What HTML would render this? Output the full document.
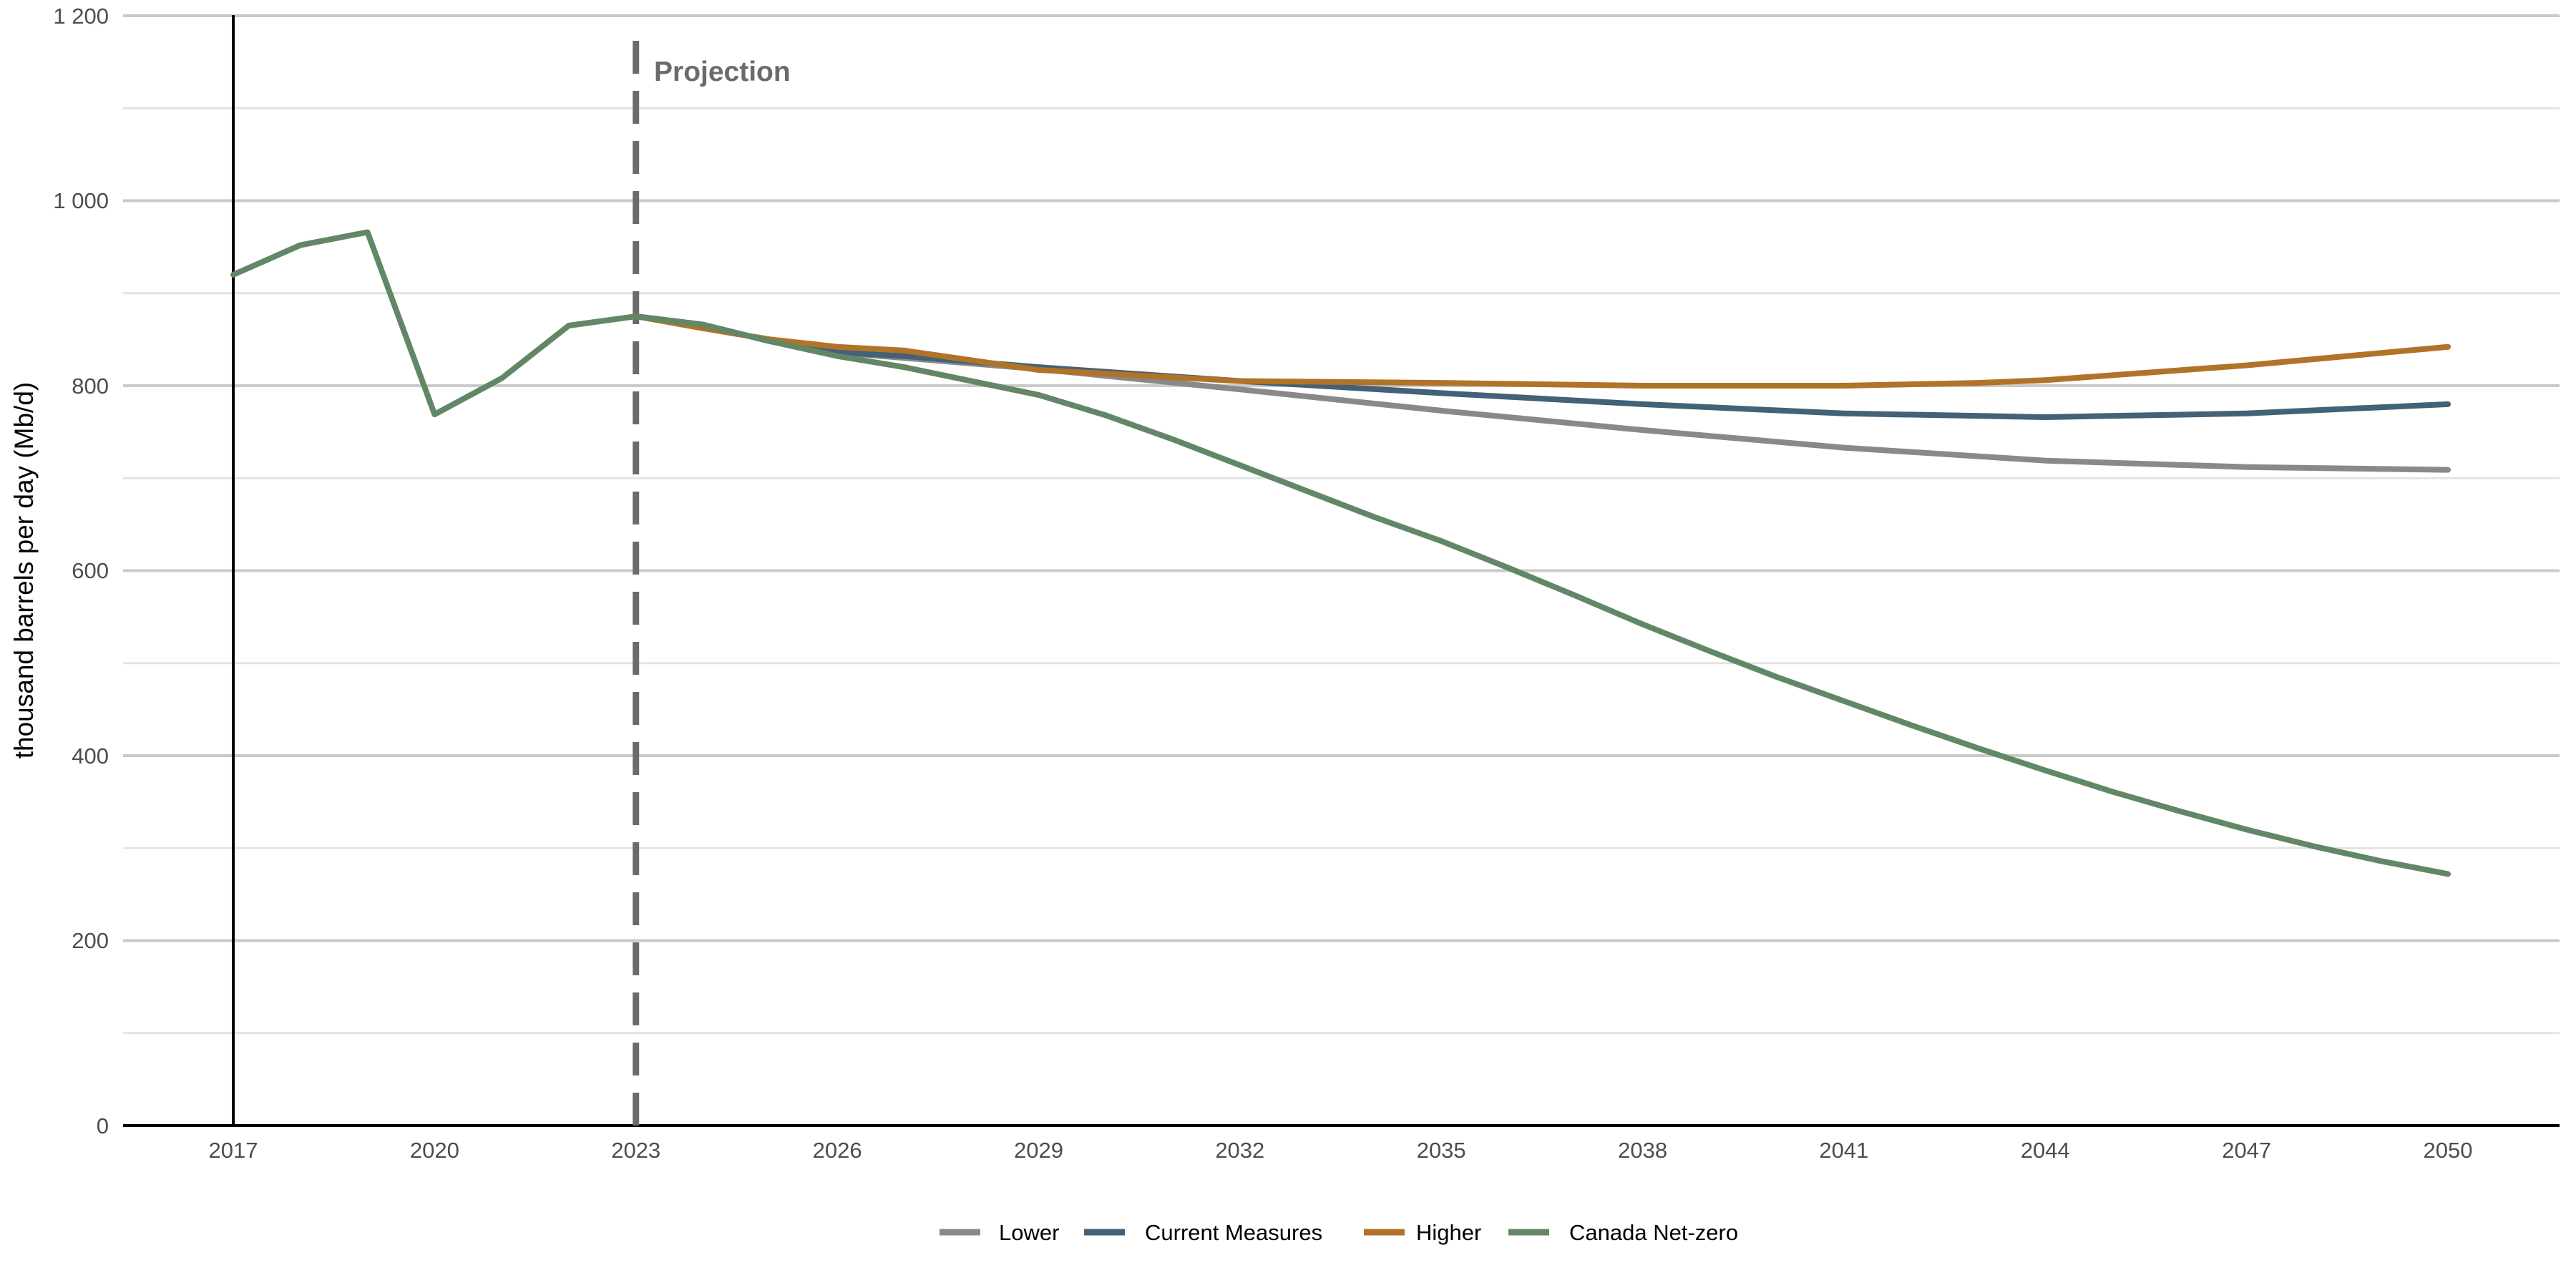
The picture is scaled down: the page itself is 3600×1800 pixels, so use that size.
<!DOCTYPE html>
<html><head><meta charset="utf-8"><style>
html,body{margin:0;padding:0;background:#fff;width:3600px;height:1800px;overflow:hidden}
svg text{font-family:"Liberation Sans",Arial,sans-serif}
</style></head><body>
<svg width="3600" height="1800" viewBox="0 0 3600 1800" xmlns="http://www.w3.org/2000/svg">
<g stroke-width="3">
<line x1="172" x2="3577" y1="1443.8" y2="1443.8" stroke="#e3e3e3"/>
<line x1="172" x2="3577" y1="1185.3" y2="1185.3" stroke="#e3e3e3"/>
<line x1="172" x2="3577" y1="926.8" y2="926.8" stroke="#e3e3e3"/>
<line x1="172" x2="3577" y1="668.3" y2="668.3" stroke="#e3e3e3"/>
<line x1="172" x2="3577" y1="409.8" y2="409.8" stroke="#e3e3e3"/>
<line x1="172" x2="3577" y1="151.3" y2="151.3" stroke="#e3e3e3"/>
<line x1="172" x2="3577" y1="1314.5" y2="1314.5" stroke="#cacaca" stroke-width="4"/>
<line x1="172" x2="3577" y1="1056" y2="1056" stroke="#cacaca" stroke-width="4"/>
<line x1="172" x2="3577" y1="797.5" y2="797.5" stroke="#cacaca" stroke-width="4"/>
<line x1="172" x2="3577" y1="539" y2="539" stroke="#cacaca" stroke-width="4"/>
<line x1="172" x2="3577" y1="280.5" y2="280.5" stroke="#cacaca" stroke-width="4"/>
<line x1="172" x2="3577" y1="22" y2="22" stroke="#cacaca" stroke-width="4"/>
</g>
<line x1="172" x2="3577" y1="1573" y2="1573" stroke="#000" stroke-width="4"/>
<line x1="326" x2="326" y1="21" y2="1573" stroke="#000" stroke-width="4"/>
<line x1="888.7" x2="888.7" y1="1573" y2="41" stroke="#6b6b6b" stroke-width="9" stroke-dasharray="46,24"/>
<text x="914" y="113" font-size="39" font-weight="bold" fill="#6b6b6b">Projection</text>
<g font-size="31" fill="#4d4d4d" text-anchor="end">
<text x="152" y="1584">0</text>
<text x="152" y="1325">200</text>
<text x="152" y="1067">400</text>
<text x="152" y="808">600</text>
<text x="152" y="550">800</text>
<text x="152" y="291">1 000</text>
<text x="152" y="33">1 200</text>
</g>
<g font-size="31" fill="#4d4d4d" text-anchor="middle">
<text x="326" y="1618">2017</text><text x="607.4" y="1618">2020</text><text x="888.7" y="1618">2023</text>
<text x="1170.1" y="1618">2026</text><text x="1451.5" y="1618">2029</text><text x="1732.8" y="1618">2032</text>
<text x="2014.2" y="1618">2035</text><text x="2295.6" y="1618">2038</text><text x="2576.9" y="1618">2041</text>
<text x="2858.3" y="1618">2044</text><text x="3139.7" y="1618">2047</text><text x="3421" y="1618">2050</text>
</g>
<text transform="translate(46,797) rotate(-90)" font-size="37" fill="#000" text-anchor="middle">thousand barrels per day (Mb/d)</text>
<g transform="matrix(93.79,0,0,-1.2925,326,1573)" fill="none" stroke-linejoin="round" stroke-linecap="round">
<polyline vector-effect="non-scaling-stroke" stroke="#898989" stroke-width="8" points="6,875 7,866 8,848 9,836 10,830 12,818 15,796 18,773 21,752 24,733 27,719 30,712 33,709"/>
<polyline vector-effect="non-scaling-stroke" stroke="#436177" stroke-width="8" points="6,875 7,866 8,848 9,836 10,832 12,820 15,805 18,792 21,780 24,770 27,766 30,770 33,780"/>
<polyline vector-effect="non-scaling-stroke" stroke="#b07328" stroke-width="8" points="6,875 7,862 8,850 9,842 10,838 12,817 15,805 18,803 21,800 24,800 26,803 27,806 30,822 33,842"/>
<polyline vector-effect="non-scaling-stroke" stroke="#628767" stroke-width="8" points="0,920 1,952 2,966 3,769 4,808 5,865 6,875 7,866 8,848 9,832 10,820 11,805 12,790 13,768 14,742 15,714 16,686 17,658 18,632 19,603 20,573 21,542 22,513 23,485 24,459 25,433 26,408 27,384 28,361 29,340 30,320 31,302 32,286 33,272"/>
</g>
<g stroke-width="9">
<line x1="1313" x2="1370" y1="1722" y2="1722" stroke="#898989"/>
<line x1="1515" x2="1572" y1="1722" y2="1722" stroke="#436177"/>
<line x1="1906" x2="1963" y1="1722" y2="1722" stroke="#b07328"/>
<line x1="2108" x2="2165" y1="1722" y2="1722" stroke="#628767"/>
</g>
<g font-size="31" fill="#000">
<text x="1396" y="1733">Lower</text>
<text x="1600" y="1733">Current Measures</text>
<text x="1979" y="1733">Higher</text>
<text x="2193" y="1733">Canada Net-zero</text>
</g>
</svg>
</body></html>
